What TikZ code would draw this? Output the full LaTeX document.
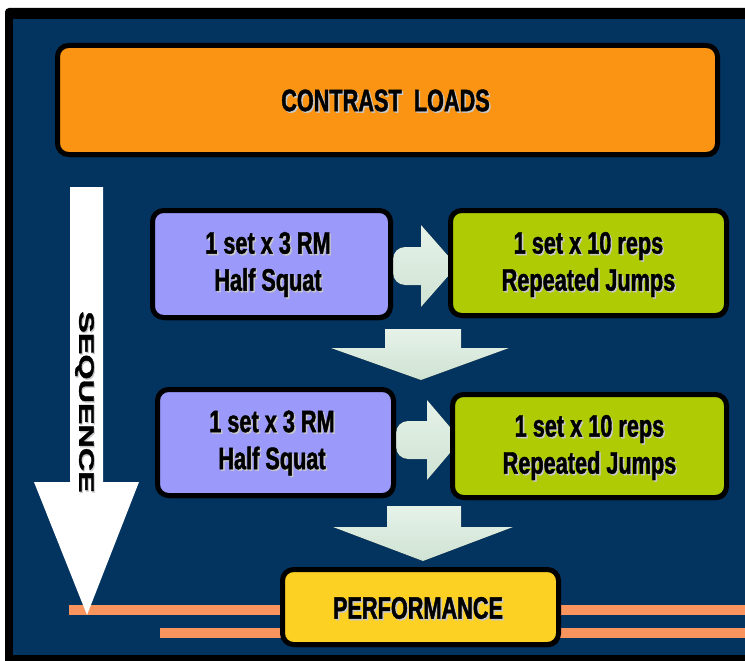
\documentclass[tikz,border=0pt]{standalone}
\usepackage{fontspec}
\setmainfont{Liberation Sans}
\newfontfamily\narrowf[FakeStretch=0.7, FakeBold=1.3]{Liberation Sans}
\newfontfamily\seqf[FakeBold=1.3]{Liberation Sans}
\usetikzlibrary{shadows,calc}
\definecolor{bgblue}{HTML}{03335F}
\definecolor{orangebox}{HTML}{FB9412}
\definecolor{purplebox}{HTML}{9B99FA}
\definecolor{greenbox}{HTML}{AFCB04}
\definecolor{yellowbox}{HTML}{FDD124}
\definecolor{lineor}{HTML}{F9945F}
\definecolor{arrowc}{HTML}{E6F2E8}
\definecolor{arrowd}{HTML}{CFE3D4}
\definecolor{txtshadow}{HTML}{C8C8C8}
\tikzset{
  boxnode/.style={rounded corners=11pt, draw=black, line width=5pt, inner sep=0pt,
    drop shadow={shadow xshift=1.5pt, shadow yshift=-2.5pt, opacity=1, fill=black}},
  boxtxt/.style={align=center, inner sep=0pt, text=black,
    font=\narrowf\bfseries\fontsize{31}{37}\selectfont},
  shtxt/.style={boxtxt, text=txtshadow},
  blockarrow/.style={top color=arrowc, bottom color=arrowd, draw=none}
}
\begin{document}
\begin{tikzpicture}[x=1pt,y=-1pt]
\useasboundingbox (0,0) rectangle (745,661);
\fill[white] (0,0) rectangle (745,661);
% frame
\fill[black, rounded corners=4pt] (5,8) rectangle (775,680);
\fill[bgblue] (13,19) rectangle (775,655);
% orange lines
\fill[lineor] (69,605) rectangle (745,615);
\fill[lineor] (160,628) rectangle (745,638);
% sequence arrow
\fill[white] (70,187) -- (103,187) -- (103,482) -- (139,482) -- (87,615) -- (34,482) -- (70,482) -- cycle;
\node[rotate=-90, inner sep=0pt, text=txtshadow, font=\seqf\bfseries\fontsize{21}{21}\selectfont] (seqs) at (85.5,403.5) {\scalebox{1.54}[1]{SEQUENCE}};
\node[rotate=-90, inner sep=0pt, text=black, font=\seqf\bfseries\fontsize{21}{21}\selectfont] (seq) at (84.5,402) {\scalebox{1.54}[1]{SEQUENCE}};
% right block arrows
\fill[blockarrow] (421,225) -- (457,266) -- (421,307) -- (421,285) {[rounded corners=12pt] -- (393,285) -- (393,247)} -- (421,247) -- cycle;
\fill[blockarrow] (427,400) -- (461,440) -- (427,480) -- (427,459) {[rounded corners=12pt] -- (396,459) -- (396,421)} -- (427,421) -- cycle;
% boxes
\node[boxnode, fill=orangebox, minimum width=660pt, minimum height=109pt] (cl) at (387.5,100) {};
\node[boxnode, fill=purplebox, minimum width=238pt, minimum height=107pt] (p1) at (271.5,264) {};
\node[boxnode, fill=greenbox, minimum width=276pt, minimum height=105pt] (g1) at (588.5,263) {};
\node[boxnode, fill=purplebox, minimum width=236pt, minimum height=106pt] (p2) at (275.5,442.5) {};
\node[boxnode, fill=greenbox, minimum width=274pt, minimum height=103pt] (g2) at (589.5,446) {};
\node[boxnode, fill=yellowbox, minimum width=276pt, minimum height=75pt] (pf) at (420.5,607) {};
% down block arrows
\fill[blockarrow] (385,329) -- (461,329) -- (461,348) -- (509,348) -- (421,380) -- (331,348) -- (385,348) -- cycle;
\fill[blockarrow] (387,506) -- (461,506) -- (461,527) -- (513,527) -- (423,561) -- (333,527) -- (387,527) -- cycle;
% texts
\node[shtxt] (cls) at ($(cl)+(-0.5,2)$) {CONTRAST\ \ LOADS};
\node[boxtxt] (clt) at ($(cl)+(-2,0.5)$) {CONTRAST\ \ LOADS};
\node[shtxt] (p1s) at ($(p1)+(-2,2)$) {1 set x 3 RM\\Half Squat};
\node[boxtxt] (p1t) at ($(p1)+(-3.5,0.5)$) {1 set x 3 RM\\Half Squat};
\node[shtxt] (g1s) at ($(g1)+(1.5,3)$) {1 set x 10 reps\\Repeated Jumps};
\node[boxtxt] (g1t) at ($(g1)+(0,1.5)$) {1 set x 10 reps\\Repeated Jumps};
\node[shtxt] (p2s) at ($(p2)+(-2,2)$) {1 set x 3 RM\\Half Squat};
\node[boxtxt] (p2t) at ($(p2)+(-3.5,0.5)$) {1 set x 3 RM\\Half Squat};
\node[shtxt] (g2s) at ($(g2)+(1.5,3)$) {1 set x 10 reps\\Repeated Jumps};
\node[boxtxt] (g2t) at ($(g2)+(0,1.5)$) {1 set x 10 reps\\Repeated Jumps};
\node[shtxt] (pfs) at ($(pf)+(-1,2.5)$) {PERFORMANCE};
\node[boxtxt] (pft) at ($(pf)+(-2.5,1)$) {PERFORMANCE};
\end{tikzpicture}
\end{document}
